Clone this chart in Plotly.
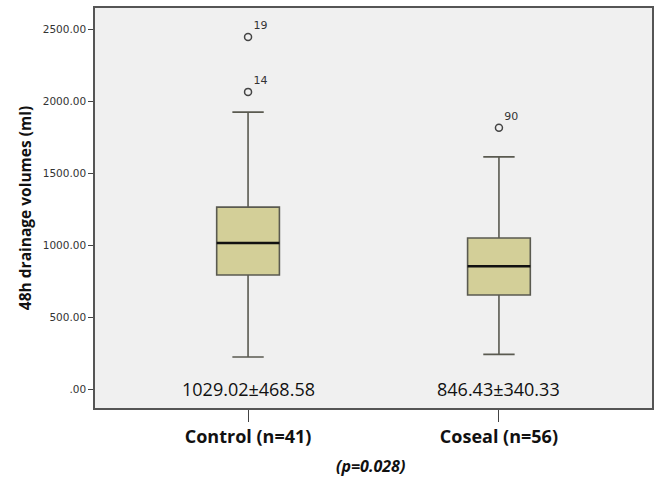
import plotly.graph_objects as go

categories = ["Control (n=41)", "Coseal (n=56)"]
q1 = [792, 653]
median = [1014, 854]
q3 = [1264, 1049]
lower_whisker = [222, 241]
upper_whisker = [1924, 1613]
outlier_group = ["Control (n=41)", "Control (n=41)", "Coseal (n=56)"]
outlier_values = [2446, 2065, 1815]
outlier_ids = ["19", "14", "90"]
means = ["1029.02", "846.43"]
sds = ["468.58", "340.33"]
tick_vals = [0, 500, 1000, 1500, 2000, 2500]
tick_text = [".00", "500.00", "1000.00", "1500.00", "2000.00", "2500.00"]
p_value = "0.028"

fig = go.Figure()
fig.add_trace(go.Box(
    x=categories, q1=q1, median=median, q3=q3,
    lowerfence=lower_whisker, upperfence=upper_whisker,
    fillcolor="#d3cf98", line=dict(color="#5a5a50", width=1.6),
    width=0.25, whiskerwidth=0.5, boxpoints=False, showlegend=False,
    hoverinfo="skip",
))
# thicker median lines
for i, m in enumerate(median):
    fig.add_shape(type="line", xref="x", yref="y", x0=i - 0.125,
                  x1=i + 0.125, y0=m, y1=m,
                  line=dict(color="#111111", width=2.5))
fig.add_trace(go.Scatter(
    x=outlier_group, y=outlier_values, mode="markers+text",
    marker=dict(symbol="circle-open", size=7, color="#444444", line=dict(width=1.5)),
    text=outlier_ids, textposition="top right",
    textfont=dict(family="DejaVu Sans", size=11, color="#333333"),
    showlegend=False, hoverinfo="skip",
))
for c, m, s in zip(categories, means, sds):
    fig.add_annotation(x=c, y=0, text=f"{m}±{s}", showarrow=False,
                       font=dict(family="Open Sans", size=18, color="#111111"),
                       xanchor="center", yanchor="middle")
fig.add_annotation(xref="paper", yref="paper", x=0.494, y=-0.145,
                   text=f"<b><i>(p={p_value})</i></b>", showarrow=False,
                   font=dict(family="Open Sans", size=16, color="#111111"),
                   xanchor="center", yanchor="middle")

fig.update_layout(
    width=655, height=479,
    margin=dict(l=95, r=3, t=8, b=71),
    plot_bgcolor="#f0f0f0", paper_bgcolor="white",
    xaxis=dict(type="category", range=[-0.61, 1.61], showgrid=False, automargin=False,
               ticks="outside", ticklen=12, tickcolor="#444444", tickwidth=1.2,
               tickfont=dict(family="Open Sans", size=18, color="#111111", weight="bold"),
               showline=True, linecolor="#555555", linewidth=1.5, mirror=True,
               zeroline=False),
    yaxis=dict(range=[-132, 2648], tickvals=tick_vals, ticktext=tick_text, automargin=False,
               showgrid=False, zeroline=False, ticks="outside", ticklen=5,
               tickcolor="#444444", tickfont=dict(family="DejaVu Sans", size=10.5, color="#333333"),
               showline=True, linecolor="#555555", linewidth=1.5, mirror=True,
               title=dict(text="<b>48h drainage volumes (ml)</b>", standoff=7,
                          font=dict(family="Open Sans", size=15.5, color="#111111"))),
)
fig.write_html("out.html", config={"displayModeBar": False},
               post_script="document.body.style.margin='0';")
